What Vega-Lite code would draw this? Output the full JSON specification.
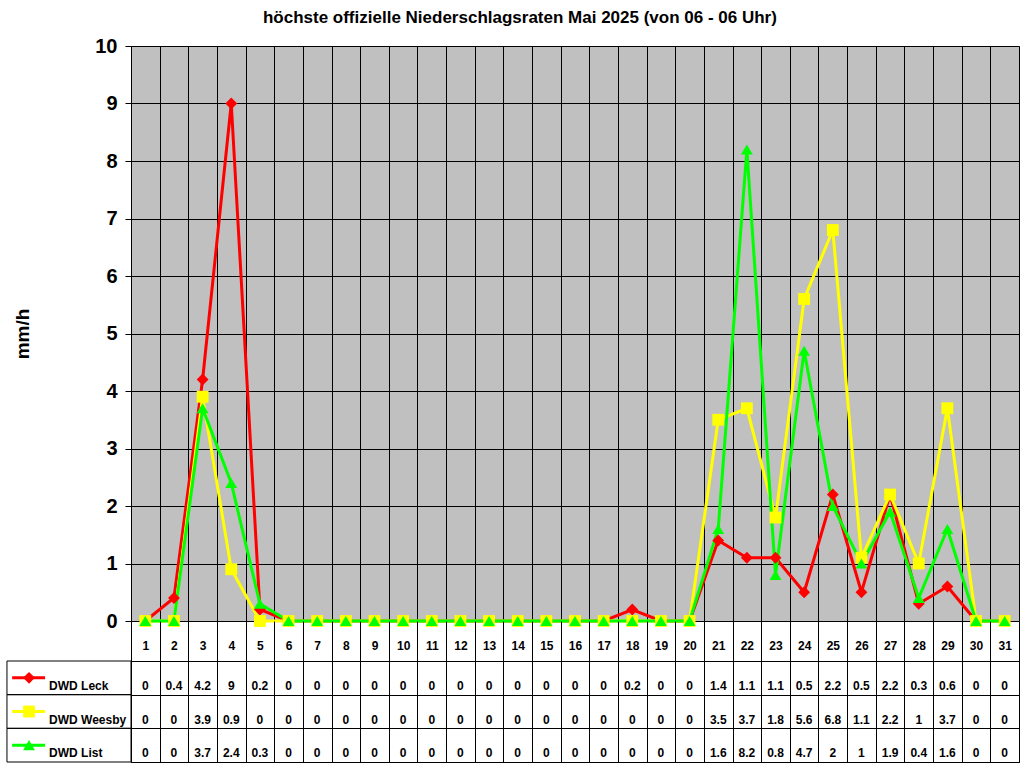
{
  "$schema": "https://vega.github.io/schema/vega-lite/v6.json",
  "padding": {"left": 5, "top": 8, "right": 5, "bottom": 6},
  "background": "white",
  "config": {
    "font": "Liberation Sans",
    "axis": {"labelFont": "Liberation Sans", "titleFont": "Liberation Sans", "labelOverlap": false, "labelFlush": false},
    "axisTop": {"labelOverlap": false, "labelFlush": false}
  },
  "title": {
    "text": "höchste offizielle Niederschlagsraten Mai 2025 (von 06 - 06 Uhr)",
    "fontSize": 17,
    "fontWeight": "bold",
    "font": "Liberation Sans",
    "color": "black",
    "anchor": "middle",
    "offset": 9
  },
  "data": {
    "values": [
      {"Tag": 1, "DWD Leck": 0, "DWD Weesby": 0, "DWD List": 0},
      {"Tag": 2, "DWD Leck": 0.4, "DWD Weesby": 0, "DWD List": 0},
      {"Tag": 3, "DWD Leck": 4.2, "DWD Weesby": 3.9, "DWD List": 3.7},
      {"Tag": 4, "DWD Leck": 9, "DWD Weesby": 0.9, "DWD List": 2.4},
      {"Tag": 5, "DWD Leck": 0.2, "DWD Weesby": 0, "DWD List": 0.3},
      {"Tag": 6, "DWD Leck": 0, "DWD Weesby": 0, "DWD List": 0},
      {"Tag": 7, "DWD Leck": 0, "DWD Weesby": 0, "DWD List": 0},
      {"Tag": 8, "DWD Leck": 0, "DWD Weesby": 0, "DWD List": 0},
      {"Tag": 9, "DWD Leck": 0, "DWD Weesby": 0, "DWD List": 0},
      {"Tag": 10, "DWD Leck": 0, "DWD Weesby": 0, "DWD List": 0},
      {"Tag": 11, "DWD Leck": 0, "DWD Weesby": 0, "DWD List": 0},
      {"Tag": 12, "DWD Leck": 0, "DWD Weesby": 0, "DWD List": 0},
      {"Tag": 13, "DWD Leck": 0, "DWD Weesby": 0, "DWD List": 0},
      {"Tag": 14, "DWD Leck": 0, "DWD Weesby": 0, "DWD List": 0},
      {"Tag": 15, "DWD Leck": 0, "DWD Weesby": 0, "DWD List": 0},
      {"Tag": 16, "DWD Leck": 0, "DWD Weesby": 0, "DWD List": 0},
      {"Tag": 17, "DWD Leck": 0, "DWD Weesby": 0, "DWD List": 0},
      {"Tag": 18, "DWD Leck": 0.2, "DWD Weesby": 0, "DWD List": 0},
      {"Tag": 19, "DWD Leck": 0, "DWD Weesby": 0, "DWD List": 0},
      {"Tag": 20, "DWD Leck": 0, "DWD Weesby": 0, "DWD List": 0},
      {"Tag": 21, "DWD Leck": 1.4, "DWD Weesby": 3.5, "DWD List": 1.6},
      {"Tag": 22, "DWD Leck": 1.1, "DWD Weesby": 3.7, "DWD List": 8.2},
      {"Tag": 23, "DWD Leck": 1.1, "DWD Weesby": 1.8, "DWD List": 0.8},
      {"Tag": 24, "DWD Leck": 0.5, "DWD Weesby": 5.6, "DWD List": 4.7},
      {"Tag": 25, "DWD Leck": 2.2, "DWD Weesby": 6.8, "DWD List": 2},
      {"Tag": 26, "DWD Leck": 0.5, "DWD Weesby": 1.1, "DWD List": 1},
      {"Tag": 27, "DWD Leck": 2.2, "DWD Weesby": 2.2, "DWD List": 1.9},
      {"Tag": 28, "DWD Leck": 0.3, "DWD Weesby": 1, "DWD List": 0.4},
      {"Tag": 29, "DWD Leck": 0.6, "DWD Weesby": 3.7, "DWD List": 1.6},
      {"Tag": 30, "DWD Leck": 0, "DWD Weesby": 0, "DWD List": 0},
      {"Tag": 31, "DWD Leck": 0, "DWD Weesby": 0, "DWD List": 0}
    ]
  },
  "transform": [
    {"fold": ["DWD Leck", "DWD Weesby", "DWD List"], "as": ["Station", "Wert"]}
  ],
  "bounds": "flush",
  "spacing": 40,
  "vconcat": [
    {
      "width": 888,
      "height": 575,
      "view": {"fill": "#C0C0C0", "stroke": "#808080"},
      "encoding": {
        "x": {
          "field": "Tag",
          "type": "quantitative",
          "scale": {"domain": [0.5, 31.5], "nice": false, "zero": false},
          "axis": {
            "values": [0.5, 1.5, 2.5, 3.5, 4.5, 5.5, 6.5, 7.5, 8.5, 9.5, 10.5, 11.5, 12.5, 13.5, 14.5, 15.5, 16.5, 17.5, 18.5, 19.5, 20.5, 21.5, 22.5, 23.5, 24.5, 25.5, 26.5, 27.5, 28.5, 29.5, 30.5, 31.5],
            "grid": true, "gridColor": "black", "gridOpacity": 1, "gridWidth": 1,
            "labels": false, "ticks": false, "domain": false, "title": null
          }
        },
        "y": {
          "field": "Wert",
          "type": "quantitative",
          "scale": {"domain": [0, 10], "nice": false, "zero": true},
          "axis": {
            "values": [0, 1, 2, 3, 4, 5, 6, 7, 8, 9, 10],
            "grid": true, "gridColor": "black", "gridOpacity": 1, "gridWidth": 1,
            "domain": true, "domainColor": "black",
            "tickSize": 6, "tickColor": "black",
            "labelFontSize": 20, "labelFontWeight": "bold", "labelColor": "black", "labelPadding": 8,
            "title": "mm/h", "titleFontSize": 19, "titleFontWeight": "bold", "titleColor": "black", "titlePadding": 62
          }
        },
        "color": {
          "field": "Station",
          "type": "nominal",
          "scale": {"domain": ["DWD Leck", "DWD Weesby", "DWD List"], "range": ["#FF0000", "#FFFF00", "#00FF00"]},
          "legend": null
        }
      },
      "layer": [
        {"mark": {"type": "line", "strokeWidth": 3}},
        {
          "mark": {"type": "point", "filled": true, "opacity": 1, "size": 140},
          "encoding": {
            "shape": {
              "field": "Station",
              "type": "nominal",
              "scale": {"domain": ["DWD Leck", "DWD Weesby", "DWD List"], "range": ["diamond", "square", "triangle-up"]},
              "legend": null
            }
          }
        }
      ]
    },
    {
      "width": 888,
      "height": 101,
      "view": {"fill": "white", "stroke": "black"},
      "encoding": {
        "x": {
          "field": "Tag",
          "type": "quantitative",
          "scale": {"domain": [0.5, 31.5], "nice": false, "zero": false},
          "axis": {
            "orient": "top",
            "values": [0.5, 1.5, 2.5, 3.5, 4.5, 5.5, 6.5, 7.5, 8.5, 9.5, 10.5, 11.5, 12.5, 13.5, 14.5, 15.5, 16.5, 17.5, 18.5, 19.5, 20.5, 21.5, 22.5, 23.5, 24.5, 25.5, 26.5, 27.5, 28.5, 29.5, 30.5, 31.5],
            "grid": true, "gridColor": "black", "gridOpacity": 1,
            "ticks": true, "tickSize": 40, "tickColor": "black",
            "domain": false, "title": null,
            "labelExpr": "datum.value < 31 ? format(datum.value + 0.5, 'd') : ''",
            "labelOffset": 14.32, "labelAlign": "center", "labelBaseline": "alphabetic",
            "labelPadding": -28, "labelFlush": false, "labelOverlap": false, "labelBound": false,
            "labelSeparation": 0,
            "labelFontSize": 12, "labelFontWeight": "bold", "labelColor": "black"
          }
        },
        "y": {
          "field": "Station",
          "type": "nominal",
          "scale": {"type": "band", "domain": ["DWD Leck", "DWD Weesby", "DWD List"], "paddingInner": 0, "paddingOuter": 0},
          "axis": {
            "labels": false, "ticks": false, "domain": false, "title": null,
            "grid": true, "gridColor": "black", "gridOpacity": 1, "tickBand": "extent"
          }
        }
      },
      "layer": [
        {
          "mark": {"type": "text", "fontWeight": "bold", "fontSize": 12, "baseline": "alphabetic", "dy": 12, "color": "black"},
          "encoding": {
            "text": {"field": "Wert", "type": "quantitative", "format": "~g"}
          }
        },
        {
          "transform": [{"filter": "datum.Tag == 1"}],
          "mark": {"type": "rect", "fillOpacity": 0, "stroke": "black", "strokeWidth": 1},
          "encoding": {
            "x": {"datum": -3.83, "type": "quantitative"},
            "x2": {"datum": 0.5}
          }
        },
        {
          "transform": [{"filter": "datum.Tag == 1"}],
          "mark": {"type": "rule", "strokeWidth": 3},
          "encoding": {
            "x": {"datum": -3.65, "type": "quantitative"},
            "x2": {"datum": -2.5},
            "color": {
              "field": "Station", "type": "nominal",
              "scale": {"domain": ["DWD Leck", "DWD Weesby", "DWD List"], "range": ["#FF0000", "#FFFF00", "#00FF00"]},
              "legend": null
            }
          }
        },
        {
          "transform": [{"filter": "datum.Tag == 1"}],
          "mark": {"type": "point", "filled": true, "opacity": 1, "size": 140},
          "encoding": {
            "x": {"datum": -3.06, "type": "quantitative"},
            "color": {
              "field": "Station", "type": "nominal",
              "scale": {"domain": ["DWD Leck", "DWD Weesby", "DWD List"], "range": ["#FF0000", "#FFFF00", "#00FF00"]},
              "legend": null
            },
            "shape": {
              "field": "Station", "type": "nominal",
              "scale": {"domain": ["DWD Leck", "DWD Weesby", "DWD List"], "range": ["diamond", "square", "triangle-up"]},
              "legend": null
            }
          }
        },
        {
          "transform": [{"filter": "datum.Tag == 1"}],
          "mark": {"type": "text", "fontWeight": "bold", "fontSize": 12, "baseline": "alphabetic", "dy": 12, "align": "left", "color": "black"},
          "encoding": {
            "x": {"datum": -2.36, "type": "quantitative"},
            "text": {"field": "Station", "type": "nominal"}
          }
        }
      ]
    }
  ]
}
